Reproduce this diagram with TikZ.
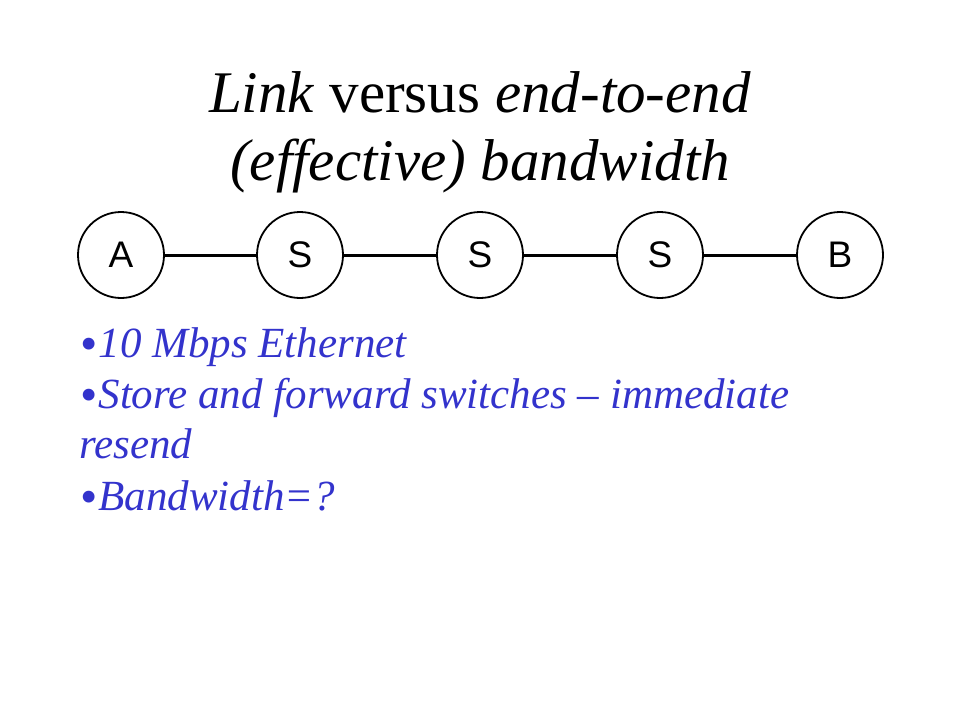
\documentclass[tikz,border=0pt]{standalone}
\usepackage{fontspec}
\setmainfont{Liberation Serif}
\newfontfamily\arialf{Liberation Sans}
\definecolor{bulletblue}{RGB}{51,51,204}
\newcommand{\slidebullet}{\kern1pt\raisebox{-3pt}{\scalebox{1.15}{•}}\kern1pt}
\tikzset{
  hostnode/.style={circle, draw=black, line width=1.8pt, minimum size=86pt, inner sep=0pt, fill=white, font=\arialf\fontsize{37}{37}\selectfont},
  linkline/.style={draw=black, line width=3pt},
  titletext/.style={anchor=base, inner sep=0pt, font=\fontsize{59}{68}\selectfont},
  bullettext/.style={anchor=base west, inner sep=0pt, text=bulletblue, font=\fontsize{43}{50}\selectfont}
}
\begin{document}
\begin{tikzpicture}[x=1pt,y=-1pt]
\useasboundingbox (0,0) rectangle (960,720);
\node[titletext] (t1) at (480,112) {\textit{Link} versus \textit{end-to-end}};
\node[titletext] (t2) at (480,180) {\textit{(effective) bandwidth}};
\node[hostnode] (a) at (121,255) {A};
\node[hostnode] (s1) at (300,255) {S};
\node[hostnode] (s2) at (480,255) {S};
\node[hostnode] (s3) at (660,255) {S};
\node[hostnode] (b) at (840,255) {B};
\draw[linkline] (a) -- (s1);
\draw[linkline] (s1) -- (s2);
\draw[linkline] (s2) -- (s3);
\draw[linkline] (s3) -- (b);
\node[bullettext] (l1) at (79,357) {\slidebullet\textit{10 Mbps Ethernet}};
\node[bullettext] (l2) at (79,408) {\slidebullet\textit{Store and forward switches – immediate}};
\node[bullettext] (l3) at (79,458) {\textit{resend}};
\node[bullettext] (l4) at (79,510) {\slidebullet\textit{Bandwidth=?}};
\end{tikzpicture}
\end{document}
